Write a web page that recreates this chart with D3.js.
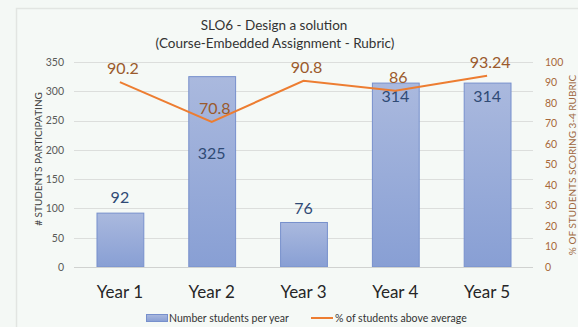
<!DOCTYPE html>
<html>
<head>
<meta charset="utf-8">
<script src="https://cdn.jsdelivr.net/npm/d3@7"></script>
<style>
  html, body { margin: 0; padding: 0; background: #f4f8f5; }
  svg { display: block; font-family: Lato, "Open Sans", sans-serif; }
</style>
</head>
<body>
<svg id="chart" width="578" height="327"></svg>
<script>
// Data
const years = ["Year 1", "Year 2", "Year 3", "Year 4", "Year 5"];
const studentCounts = [92, 325, 76, 314, 314];
const pctAboveAvg = [90.2, 70.8, 90.8, 86, 93.24];
const leftTicks = [0, 50, 100, 150, 200, 250, 300, 350];
const rightTicks = [0, 10, 20, 30, 40, 50, 60, 70, 80, 90, 100];

// Layout
const W = 578, H = 327;
const plot = { left: 74, right: 533, top: 62, bottom: 267 };
// vertical nudge of each count label relative to its bar top (px)
const countLabelDy = [-14, 78, -13, 15, 15];

const svg = d3.select("#chart");

// chart frame
svg.append("rect")
  .attr("x", 16.5).attr("y", 8.5)
  .attr("width", W).attr("height", H)
  .attr("fill", "#f5f9f6")
  .attr("stroke", "#e2e5e2").attr("stroke-width", 1.5);

const x = d3.scaleBand().domain(years).range([plot.left, plot.right])
  .paddingInner(0.49).paddingOuter(0.245);
const yL = d3.scaleLinear().domain([0, 350]).range([plot.bottom, plot.top]);
const yR = d3.scaleLinear().domain([0, 100]).range([plot.bottom, plot.top]);

// gridlines
svg.append("g").selectAll("line").data(leftTicks.filter(t => t > 0)).join("line")
  .attr("x1", plot.left).attr("x2", plot.right)
  .attr("y1", d => Math.round(yL(d)) + 0.5).attr("y2", d => Math.round(yL(d)) + 0.5)
  .attr("stroke", "#dcdedc").attr("stroke-width", 1);

// left axis
const axL = svg.append("g").attr("transform", `translate(${plot.left - 4},0)`)
  .call(d3.axisLeft(yL).tickValues(leftTicks).tickSize(0).tickPadding(6));
axL.select(".domain").remove();
axL.selectAll("text").attr("fill", "#595959").attr("font-size", 10.5)
  .attr("font-family", "Lato, sans-serif");

// right axis
const axR = svg.append("g").attr("transform", `translate(${plot.right + 2},0)`)
  .call(d3.axisRight(yR).tickValues(rightTicks).tickSize(0).tickPadding(10));
axR.select(".domain").remove();
axR.selectAll("text").attr("fill", "#a8683a").attr("font-size", 10.5)
  .attr("font-family", "Lato, sans-serif");

// bar gradient
const defs = svg.append("defs");
const grad = defs.append("linearGradient").attr("id", "barFill")
  .attr("x1", 0).attr("y1", 0).attr("x2", 0).attr("y2", 1);
grad.append("stop").attr("offset", "0%").attr("stop-color", "#aab9de");
grad.append("stop").attr("offset", "100%").attr("stop-color", "#889fd4");

// bars
svg.append("g").selectAll("rect").data(studentCounts).join("rect")
  .attr("x", (d, i) => x(years[i]) + 0.5)
  .attr("y", d => yL(d))
  .attr("width", x.bandwidth())
  .attr("height", d => plot.bottom - yL(d))
  .attr("fill", "url(#barFill)")
  .attr("stroke", "#7790cc").attr("stroke-width", 1);

// baseline
svg.append("line")
  .attr("x1", plot.left).attr("x2", plot.right)
  .attr("y1", plot.bottom + 0.5).attr("y2", plot.bottom + 0.5)
  .attr("stroke", "#d0d2d0");

// count labels
svg.append("g").selectAll("text").data(studentCounts).join("text")
  .attr("x", (d, i) => x(years[i]) + x.bandwidth() / 2)
  .attr("y", (d, i) => yL(d) + countLabelDy[i])
  .attr("text-anchor", "middle").attr("dominant-baseline", "middle")
  .attr("fill", "#2f4a75").attr("font-size", 16)
  .text(d => d);

// percentage line
const line = d3.line()
  .x((d, i) => x(years[i]) + x.bandwidth() / 2)
  .y(d => yR(d));
svg.append("path").datum(pctAboveAvg)
  .attr("d", line).attr("fill", "none")
  .attr("stroke", "#ed7d31").attr("stroke-width", 2);

// percentage labels
svg.append("g").selectAll("text").data(pctAboveAvg).join("text")
  .attr("x", (d, i) => x(years[i]) + x.bandwidth() / 2 + 3)
  .attr("y", d => yR(d) - 8)
  .attr("text-anchor", "middle")
  .attr("fill", "#9b5a2c").attr("font-size", 16)
  .text(d => d);

// category labels
svg.append("g").selectAll("text").data(years).join("text")
  .attr("x", d => x(d) + x.bandwidth() / 2)
  .attr("y", 298)
  .attr("text-anchor", "middle")
  .attr("fill", "#262626").attr("font-size", 17)
  .text(d => d);

// title
const title = svg.append("text").attr("text-anchor", "middle")
  .attr("fill", "#333").attr("font-size", 13.5);
title.append("tspan").attr("x", 274).attr("y", 30).text("SLO6 - Design a solution");
title.append("tspan").attr("x", 275).attr("y", 48).text("(Course-Embedded Assignment - Rubric)");

// axis titles
svg.append("text")
  .attr("transform", "translate(42,159) rotate(-90)")
  .attr("text-anchor", "middle").attr("fill", "#404040").attr("font-size", 10)
  .text("# STUDENTS PARTICIPATING");
svg.append("text")
  .attr("transform", "translate(576,165) rotate(-90)")
  .attr("text-anchor", "middle").attr("fill", "#a0683f").attr("font-size", 10)
  .text("% OF STUDENTS SCORING 3-4 RUBRIC");

// legend
const lg = svg.append("g");
lg.append("rect").attr("x", 146.5).attr("y", 314.5).attr("width", 21).attr("height", 7)
  .attr("fill", "url(#barFill)").attr("stroke", "#7790cc");
lg.append("text").attr("x", 169).attr("y", 322).attr("fill", "#333").attr("font-size", 10.5)
  .text("Number students per year");
lg.append("line").attr("x1", 311).attr("x2", 333).attr("y1", 318).attr("y2", 318)
  .attr("stroke", "#ed7d31").attr("stroke-width", 2);
lg.append("text").attr("x", 335).attr("y", 322).attr("fill", "#333").attr("font-size", 10.5)
  .text("% of students above average");
</script>
</body>
</html>
